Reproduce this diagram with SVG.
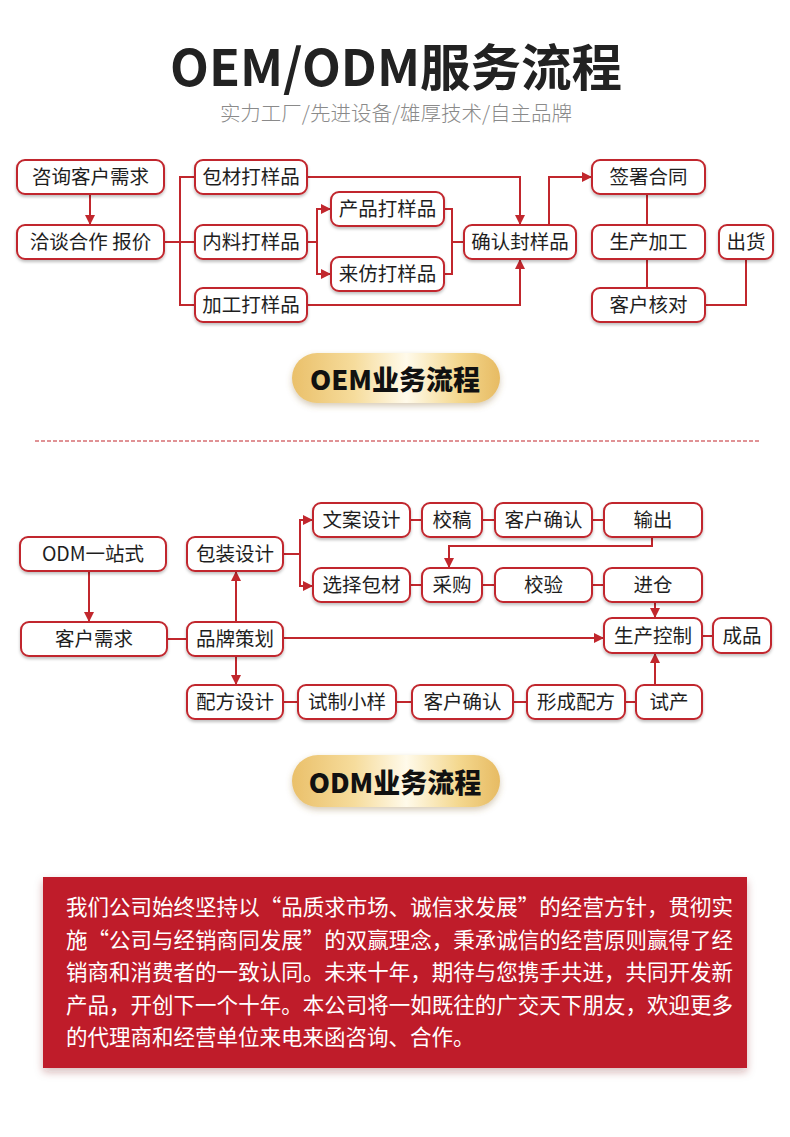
<svg xmlns="http://www.w3.org/2000/svg" width="790" height="1137" viewBox="0 0 790 1137">
<style>
.box{fill:#fff;stroke:#c1272d;stroke-width:2;filter:url(#sh)}
.t{font-family:"Noto Sans CJK SC","Noto Sans",sans-serif;font-size:19.5px;fill:#1e1e1e;text-anchor:middle}
.c{fill:none;stroke:#c1272d;stroke-width:2}
.a{marker-end:url(#arr)}
.pill{fill:url(#gold);filter:url(#psh)}
.pt{font-family:"Noto Sans CJK SC","Noto Sans",sans-serif;font-size:27px;font-weight:900;fill:#111;text-anchor:middle}
.para{font-family:"Noto Sans CJK SC","Noto Sans",sans-serif;font-size:21.5px;fill:#fff}
</style>
<defs>
<marker id="arr" markerUnits="userSpaceOnUse" markerWidth="10" markerHeight="10" refX="10" refY="5" orient="auto">
<path d="M0,0 L10,5 L0,10 z" fill="#c1272d"/>
</marker>
<filter id="sh" x="-10%" y="-20%" width="120%" height="150%">
<feDropShadow dx="0" dy="2" stdDeviation="1.5" flood-color="#000" flood-opacity="0.25"/>
</filter>
<filter id="psh" x="-10%" y="-20%" width="120%" height="160%">
<feDropShadow dx="0" dy="3" stdDeviation="3" flood-color="#8a6a30" flood-opacity="0.35"/>
</filter>
<filter id="rsh" x="-5%" y="-5%" width="110%" height="115%">
<feDropShadow dx="0" dy="4" stdDeviation="4" flood-color="#7a1a20" flood-opacity="0.3"/>
</filter>
<linearGradient id="gold" x1="0" y1="0" x2="1" y2="0">
<stop offset="0" stop-color="#eac06a"/>
<stop offset="0.3" stop-color="#f6dc9c"/>
<stop offset="0.55" stop-color="#fffaea"/>
<stop offset="0.8" stop-color="#f4d88f"/>
<stop offset="1" stop-color="#e7bb63"/>
</linearGradient>
</defs>
<rect width="790" height="1137" fill="#fff"/>

<g id="title">
<text x="396" y="86" font-family="'Noto Sans CJK SC','Noto Sans',sans-serif" font-size="50.5" font-weight="700" fill="#222" text-anchor="middle">OEM/ODM服务流程</text>
<text x="396" y="121" font-family="'Noto Sans CJK SC','Noto Sans',sans-serif" font-size="20.5" font-weight="300" fill="#8a8a8a" text-anchor="middle">实力工厂/先进设备/雄厚技术/自主品牌</text>
</g>

<g id="oem-connectors">
<path class="c a" d="M90,194 V225"/>
<path class="c" d="M195,177 H180 V305 H195 M164,242 H195"/>
<path class="c" d="M307,242 H317"/>
<path class="c a" d="M317,242 V209 H331"/>
<path class="c a" d="M317,242 V274 H331"/>
<path class="c" d="M444,209 H452 V274 H444 M452,242 H464"/>
<path class="c a" d="M307,177 H520 V225"/>
<path class="c a" d="M307,305 H520 V259"/>
<path class="c a" d="M549,225 V177 H592"/>
<path class="c" d="M647,194 V225 M647,259 V288"/>
<path class="c" d="M705,305 H746 V259"/>
</g>

<g id="n-zixun"><rect class="box" x="17" y="160" width="147" height="34" rx="8"/><text class="t" x="90.5" y="184">咨询客户需求</text></g>
<g id="n-qiatan"><rect class="box" x="17" y="225" width="147" height="34" rx="8"/><text class="t" x="90.5" y="249">洽谈合作 报价</text></g>
<g id="n-baocai"><rect class="box" x="195" y="160" width="112" height="34" rx="8"/><text class="t" x="251" y="184">包材打样品</text></g>
<g id="n-neiliao"><rect class="box" x="195" y="225" width="112" height="34" rx="8"/><text class="t" x="251" y="249">内料打样品</text></g>
<g id="n-jiagong"><rect class="box" x="195" y="288" width="112" height="34" rx="8"/><text class="t" x="251" y="312">加工打样品</text></g>
<g id="n-chanpin"><rect class="box" x="331" y="192" width="113" height="34" rx="8"/><text class="t" x="387.5" y="216">产品打样品</text></g>
<g id="n-laifang"><rect class="box" x="331" y="257" width="113" height="34" rx="8"/><text class="t" x="387.5" y="281">来仿打样品</text></g>
<g id="n-queren"><rect class="box" x="464" y="225" width="112" height="34" rx="8"/><text class="t" x="520" y="249">确认封样品</text></g>
<g id="n-qianshu"><rect class="box" x="592" y="160" width="113" height="34" rx="8"/><text class="t" x="648.5" y="184">签署合同</text></g>
<g id="n-shengchan"><rect class="box" x="592" y="225" width="113" height="34" rx="8"/><text class="t" x="648.5" y="249">生产加工</text></g>
<g id="n-hedui"><rect class="box" x="592" y="288" width="113" height="34" rx="8"/><text class="t" x="648.5" y="312">客户核对</text></g>
<g id="n-chuhuo"><rect class="box" x="719" y="225" width="54" height="34" rx="8"/><text class="t" x="746" y="249">出货</text></g>

<g id="oem-label"><rect class="pill" x="292" y="353" width="208" height="50" rx="25"/><text class="pt" x="395" y="390">OEM业务流程</text></g>

<line x1="35" y1="441" x2="761" y2="441" stroke="#c1272d" stroke-width="1.2" stroke-dasharray="4 2"/>

<g id="odm-connectors">
<path class="c a" d="M89,571 V622"/>
<path class="c" d="M167,639 H187"/>
<path class="c a" d="M236,622 V571"/>
<path class="c a" d="M236,656 V685"/>
<path class="c" d="M283,554 H300"/>
<path class="c a" d="M300,554 V520 H313"/>
<path class="c a" d="M300,554 V586 H313"/>
<path class="c" d="M410,520 H422 M482,520 H495 M592,520 H604"/>
<path class="c a" d="M652,537 V546 H449 V568"/>
<path class="c" d="M410,585 H422 M482,585 H495 M592,585 H604"/>
<path class="c a" d="M655,602 V618"/>
<path class="c a" d="M283,638 H604"/>
<path class="c" d="M702,636 H713"/>
<path class="c" d="M283,702 H298 M396,702 H412 M513,702 H527 M625,702 H636"/>
<path class="c a" d="M655,685 V653"/>
</g>

<g id="m-odm"><rect class="box" x="20" y="537" width="146" height="34" rx="8"/><text class="t" x="93" y="561">ODM一站式</text></g>
<g id="m-xuqiu"><rect class="box" x="21" y="622" width="146" height="34" rx="8"/><text class="t" x="94" y="646">客户需求</text></g>
<g id="m-baozhuang"><rect class="box" x="187" y="537" width="96" height="34" rx="8"/><text class="t" x="235" y="561">包装设计</text></g>
<g id="m-pinpai"><rect class="box" x="187" y="622" width="96" height="34" rx="8"/><text class="t" x="235" y="646">品牌策划</text></g>
<g id="m-peifang"><rect class="box" x="187" y="685" width="96" height="34" rx="8"/><text class="t" x="235" y="709">配方设计</text></g>
<g id="m-wenan"><rect class="box" x="313" y="503" width="97" height="34" rx="8"/><text class="t" x="361.5" y="527">文案设计</text></g>
<g id="m-jiaogao"><rect class="box" x="422" y="503" width="60" height="34" rx="8"/><text class="t" x="452" y="527">校稿</text></g>
<g id="m-queren1"><rect class="box" x="495" y="503" width="97" height="34" rx="8"/><text class="t" x="543.5" y="527">客户确认</text></g>
<g id="m-shuchu"><rect class="box" x="604" y="503" width="98" height="34" rx="8"/><text class="t" x="653" y="527">输出</text></g>
<g id="m-xuanze"><rect class="box" x="313" y="568" width="97" height="34" rx="8"/><text class="t" x="361.5" y="592">选择包材</text></g>
<g id="m-caigou"><rect class="box" x="422" y="568" width="60" height="34" rx="8"/><text class="t" x="452" y="592">采购</text></g>
<g id="m-jiaoyan"><rect class="box" x="495" y="568" width="97" height="34" rx="8"/><text class="t" x="543.5" y="592">校验</text></g>
<g id="m-jincang"><rect class="box" x="604" y="568" width="98" height="34" rx="8"/><text class="t" x="653" y="592">进仓</text></g>
<g id="m-kongzhi"><rect class="box" x="604" y="618" width="98" height="35" rx="8"/><text class="t" x="653" y="642.5">生产控制</text></g>
<g id="m-chengpin"><rect class="box" x="713" y="618" width="58" height="35" rx="8"/><text class="t" x="742" y="642.5">成品</text></g>
<g id="m-shizhi"><rect class="box" x="298" y="685" width="98" height="34" rx="8"/><text class="t" x="347" y="709">试制小样</text></g>
<g id="m-queren2"><rect class="box" x="412" y="685" width="101" height="34" rx="8"/><text class="t" x="462.5" y="709">客户确认</text></g>
<g id="m-xingcheng"><rect class="box" x="527" y="685" width="98" height="34" rx="8"/><text class="t" x="576" y="709">形成配方</text></g>
<g id="m-shichan"><rect class="box" x="636" y="685" width="66" height="34" rx="8"/><text class="t" x="669" y="709">试产</text></g>

<g id="odm-label"><rect class="pill" x="292" y="755" width="208" height="52" rx="26"/><text class="pt" x="395" y="793">ODM业务流程</text></g>

<g id="intro">
<rect x="43" y="877" width="704" height="191" fill="#bf1b2a" filter="url(#rsh)"/>
<text class="para" x="66" y="915" textLength="667" lengthAdjust="spacing">我们公司始终坚持以“品质求市场、诚信求发展”的经营方针，贯彻实</text>
<text class="para" x="66" y="948" textLength="667" lengthAdjust="spacing">施“公司与经销商同发展”的双赢理念，秉承诚信的经营原则赢得了经</text>
<text class="para" x="66" y="980" textLength="667" lengthAdjust="spacing">销商和消费者的一致认同。未来十年，期待与您携手共进，共同开发新</text>
<text class="para" x="66" y="1013" textLength="667" lengthAdjust="spacing">产品，开创下一个十年。本公司将一如既往的广交天下朋友，欢迎更多</text>
<text class="para" x="66" y="1045">的代理商和经营单位来电来函咨询、合作。</text>
</g>
</svg>
